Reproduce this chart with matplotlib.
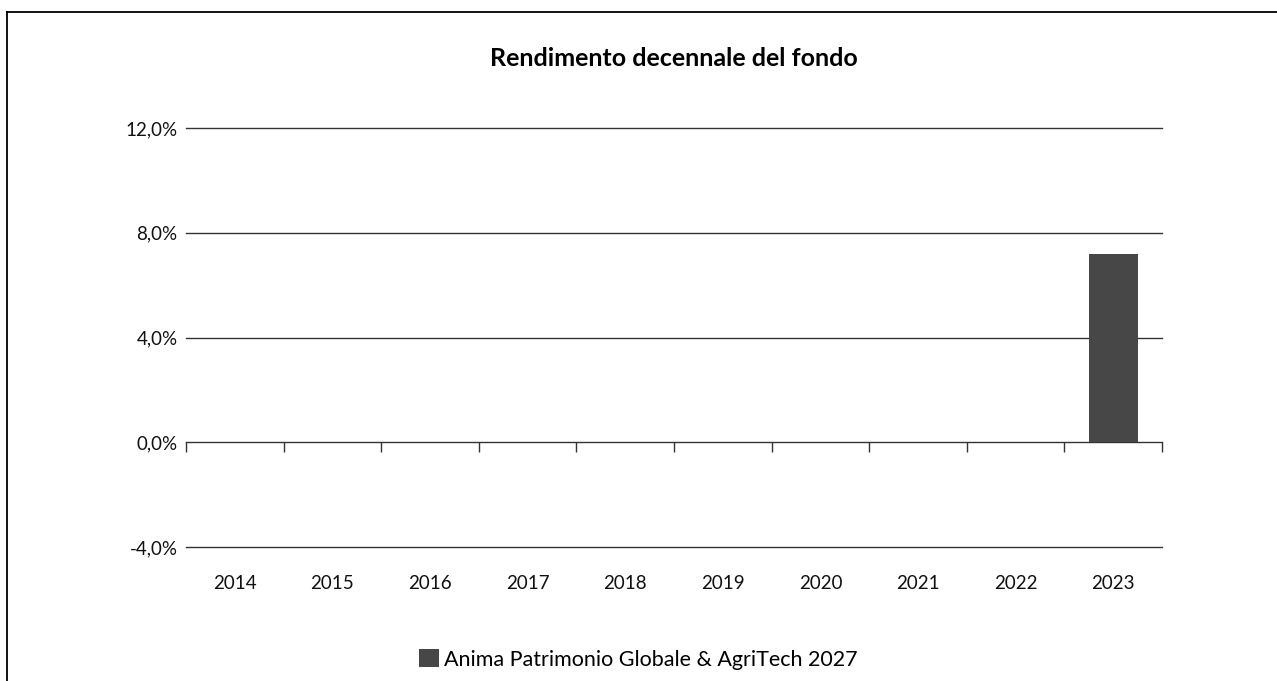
import matplotlib
matplotlib.use("Agg")
import matplotlib.pyplot as plt
from matplotlib.lines import Line2D
from matplotlib.ticker import FuncFormatter

plt.rcParams['font.family'] = ['Lato', 'DejaVu Sans']

years = ['2014', '2015', '2016', '2017', '2018', '2019', '2020', '2021', '2022', '2023']
rendimento = [0, 0, 0, 0, 0, 0, 0, 0, 0, 7.2]
y_ticks = [-4, 0, 4, 8, 12]
serie = "Anima Patrimonio Globale & AgriTech 2027"
titolo = "Rendimento decennale del fondo"

fig = plt.figure(figsize=(12.77, 6.81), dpi=100)
ax = fig.add_axes([0.1457, 0.1968, 0.7642, 0.6152])

x = list(range(len(years)))
bars = ax.bar(x, rendimento, width=0.5, color='#474747', linewidth=0, label=serie, zorder=3)

ax.set_xlim(-0.5, len(years) - 0.5)
ax.set_ylim(-4, 12)
ax.set_yticks(y_ticks)
ax.yaxis.set_major_formatter(FuncFormatter(lambda v, p: f"{v:.1f}%".replace('.', ',')))
ax.grid(axis='y', color='#333333', linewidth=1, zorder=1)
for gl in ax.get_ygridlines():
    gl.set_clip_on(False)
ax.set_axisbelow(True)
for s in ax.spines.values():
    s.set_visible(False)
ax.tick_params(axis='y', length=0, pad=6, labelsize=13.5, labelcolor='#111111')
ax.set_xticks(x)
ax.set_xticklabels(years)
ax.tick_params(axis='x', length=0, pad=20, labelsize=13.5, labelcolor='#111111')

# tick marks on zero line at category boundaries
sec = ax.secondary_xaxis(0.25)
sec.spines['bottom'].set_visible(False)
sec.set_xticks([i - 0.5 for i in range(len(years) + 1)])
sec.set_xticklabels([])
sec.tick_params(axis='x', length=7, width=1, color='#333333')

ax.set_title(titolo, fontsize=18, fontweight='bold', pad=45)

fig.legend(handles=[bars], labels=[serie], loc='lower center', bbox_to_anchor=(0.5, -0.012),
           frameon=False, fontsize=15.5, handlelength=0.9, handleheight=0.9, handletextpad=0.25)

# frame around figure
fig.add_artist(Line2D([0.0055, 0.0055], [0, 0.9824], color='black', linewidth=1.3))
fig.add_artist(Line2D([0.0055, 1], [0.9824, 0.9824], color='black', linewidth=1.3))

fig.savefig('out.png', dpi=100)
